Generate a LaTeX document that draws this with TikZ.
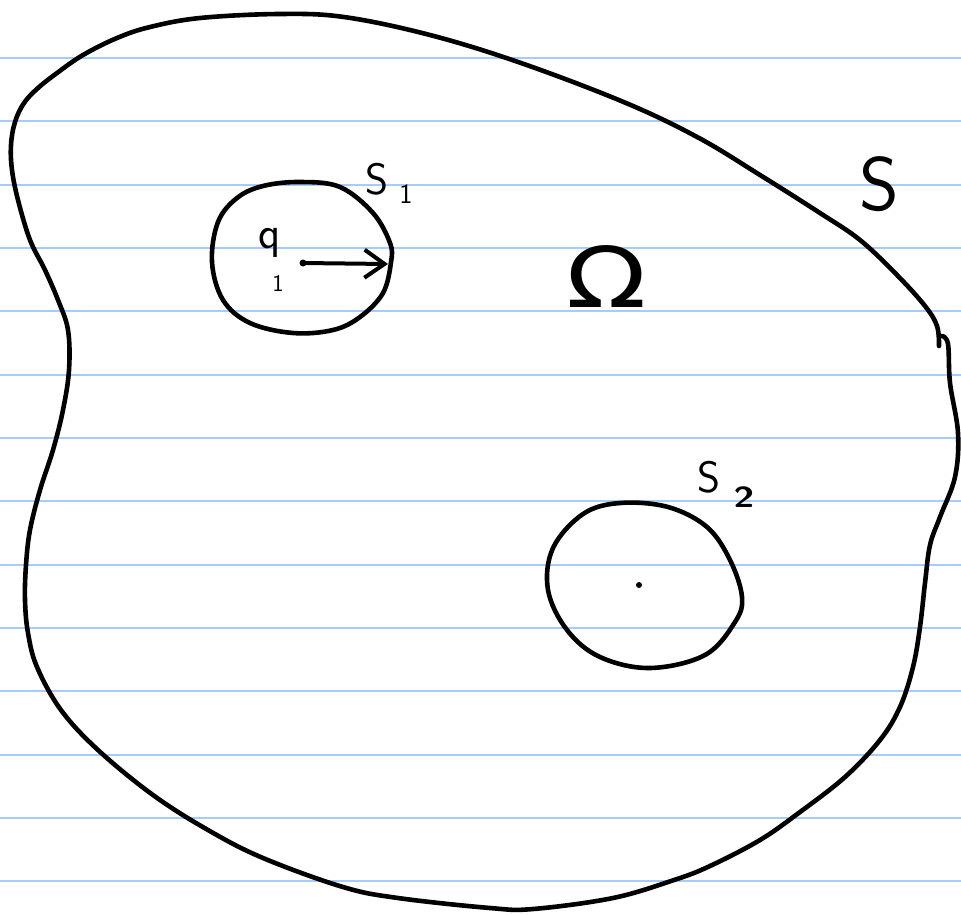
\documentclass[tikz,border=0pt]{standalone}
\usepackage{fontspec}
\newfontfamily\dejavu{DejaVu Sans}
\usetikzlibrary{arrows.meta}
\begin{document}
\begin{tikzpicture}[x=1pt,y=-1pt,
  paperline/.style={draw={rgb,255:red,164;green,204;blue,252}, line width=2pt},
  ink/.style={draw=black, line width=4.6pt, line cap=round, line join=round},
  lbl/.style={inner sep=0pt, text=black},
  dotmark/.style={circle, fill=black, inner sep=0pt, minimum size=7pt}]
\useasboundingbox (0,0) rectangle (961,914);
\fill[white] (0,0) rectangle (961,914);
% ruled paper
\foreach \k in {0,...,13} \draw[paperline] (0,{58+63.33*\k}) -- (961,{58+63.33*\k});
% outer boundary S
\draw[ink] plot[smooth, tension=0.6] coordinates {
 (942,336) (948,344) (950,383) (958,433) (955,477) (940,517) (930,545) (925,583)
 (920,627) (913,667) (900,707) (880,740) (845,777) (800,812) (760,840) (710,866) (674,880) (613,898)
 (533,909) (490,908) (398,898) (343,887) (263,858) (208,830) (153,795) (98,750)
 (61,710) (37,667) (28,633) (25,600) (26,565) (30,530) (40,490) (53,450) (63,410) (69,370)
 (68,330) (58,300) (45,270) (30,240) (18,200) (12,170) (11,145) (15,122) (24,103) (38,88)
 (57,73) (83,55) (117,38) (150,27) (200,18) (279,14) (344,17) (430,35) (521,63) (626,103) (699,138)
 (760,175) (820,213) (860,240) (897,275) (925,306) (937,326) (939,346)};
% inner boundary S1
\draw[ink] plot[smooth cycle, tension=0.6] coordinates {
 (300,182) (340,187) (373,213) (390,243) (391,262) (383,293) (360,317) (333,330)
 (293,333) (250,323) (223,300) (212,262) (218,222) (237,198) (263,186)};
% inner boundary S2
\draw[ink] plot[smooth cycle, tension=0.6] coordinates {
 (620,503) (668,507) (707,527) (730,560) (742,597) (735,622) (705,655) (650,668)
 (600,657) (567,630) (548,590) (553,548) (583,514)};
% centre points
\node[dotmark] (q1pt) at (303,263) {};
\node[dotmark, minimum size=6pt] (c2) at (639,585) {};
\coordinate (r1) at (388,264);
\draw[line width=4pt, -{Straight Barb[length=20pt, width=28pt, line width=4pt]}] (q1pt.center) -- (r1);
% labels
\node[lbl, font=\fontsize{76}{76}\sffamily] (Slab) at (879,184) {S};
\node[lbl, font=\fontsize{44}{44}\sffamily] (S1lab) at (377,179) {S};
\node[lbl, font=\fontsize{28}{28}\sffamily] (S1sub) at (406,194) {1};
\node[lbl, font=\fontsize{44}{44}\sffamily] (S2lab) at (709,477) {S};
\node[lbl, font=\fontsize{29}{29}\sffamily\bfseries, xscale=1.3] (S2sub) at (744,497) {2};
\node[lbl, font=\fontsize{46}{46}\sffamily] (qlab) at (270,243) {q};
\node[lbl, font=\fontsize{24}{24}\sffamily] (qsub) at (278,283) {1};
\node[lbl, font=\fontsize{84}{84}\dejavu, xscale=1.25] (Om) at (607,277) {Ω};
\end{tikzpicture}
\end{document}
